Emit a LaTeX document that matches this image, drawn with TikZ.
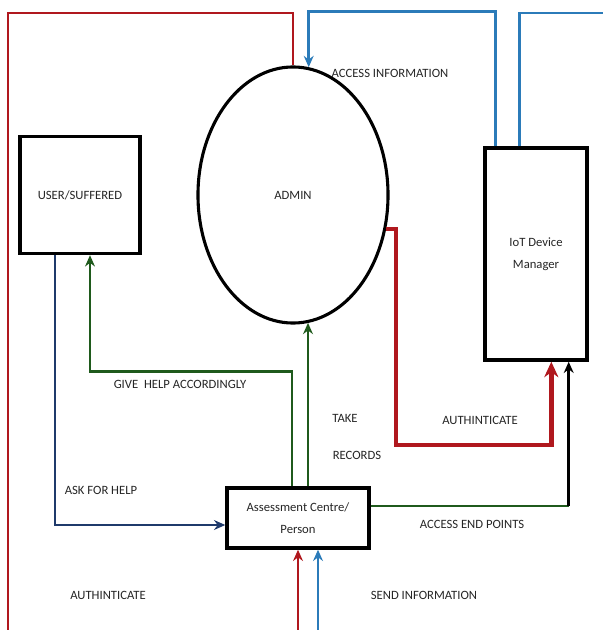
\documentclass[tikz,border=0pt]{standalone}
\usepackage{fontspec}
\setmainfont{Carlito}
\usetikzlibrary{arrows.meta,positioning,calc,shapes.geometric}
\definecolor{ink}{HTML}{262626}
\definecolor{flowred}{HTML}{B0181E}
\definecolor{flowblue}{HTML}{2B7BB9}
\definecolor{navy}{HTML}{1F3A6B}
\definecolor{leaf}{HTML}{1F5A1C}

\begin{document}
\begin{tikzpicture}[x=0.025cm, y=-0.025cm,
  box/.style={draw=black, line width=2.4pt, fill=white, align=center, text=ink, font=\fontsize{9}{15.5}\selectfont, inner sep=2pt},
  lbl/.style={text=ink, font=\fontsize{9}{11}\selectfont, inner sep=1pt},
  redline/.style={draw=flowred, line width=1.8pt},
  bigred/.style={draw=flowred, line width=3.4pt, >={Stealth[length=11pt,width=10pt]}},
  blueline/.style={draw=flowblue, line width=1.8pt},
  navyline/.style={draw=navy, line width=2pt},
  greenline/.style={draw=leaf, line width=1.8pt},
  >={Stealth[length=8pt,width=7pt]}]
\clip (0,0) rectangle (603,630);
\fill[white] (0,0) rectangle (603,630);

% the four stores
\node[box, minimum width=3cm, minimum height=2.925cm] (user) at (80,195) {USER/SUFFERED};
\node[draw, ellipse, line width=2.2pt, minimum width=4.75cm, minimum height=6.4cm, inner sep=0, text=ink, font=\fontsize{9}{11}\selectfont] (admin) at (293,195) {ADMIN};
\node[box, minimum width=2.55cm, minimum height=5.3cm] (iot) at (536,254) {IoT Device\\Manager};
\node[box, minimum width=3.55cm, minimum height=1.5cm] (asmt) at (298,518) {Assessment Centre/\\Person};

% flows around the border
\draw[redline,->] (admin.north) |- (8,13) -- (8,640) -| (asmt.south);
\draw[blueline,->] ($(iot.north west)+(12,0)$) -- ++(0,-135) -| (admin.83);
\draw[blueline,->] ($(iot.north west)+(36,0)$) |- (620,13) -- (620,640) -| ($(asmt.south)+(20,0)$);

% flows in the middle
\draw[bigred,->] (admin.-20) -| (396,445) -| ($(iot.south west)+(68,0)$);
\draw[greenline] ($(asmt.east)+(0,-12)$) -- ++(198,0) coordinate (aep);
\draw[line width=1.8pt,->] (aep) -- (aep |- iot.south);
\draw[greenline,->] ($(asmt.north)+(-6,0)$) -- ++(0,-115) -| ($(user.south)+(10,0)$);
\coordinate (tr) at ($(asmt.north)+(10,0)$);
\draw[greenline,->] (tr) -- (tr |- admin.-83);
\draw[navyline,->] ($(user.south)+(-25,0)$) |- ($(asmt.west)+(0,7)$);

% flow labels
\foreach \n/\x/\y/\t in {
  accinfo/390/73/{ACCESS INFORMATION},
  givehelp/180/384/{GIVE\ \ HELP ACCORDINGLY},
  take/345/418/{TAKE},
  records/357/455/{RECORDS},
  authiot/480/420/{AUTHINTICATE},
  endpts/472/524/{ACCESS END POINTS},
  askhelp/101/490/{ASK FOR HELP},
  authusr/108/595/{AUTHINTICATE},
  sendinfo/424/595/{SEND INFORMATION}}{
  \node[lbl] (\n) at (\x,\y) {\t};
}
\end{tikzpicture}
\end{document}
